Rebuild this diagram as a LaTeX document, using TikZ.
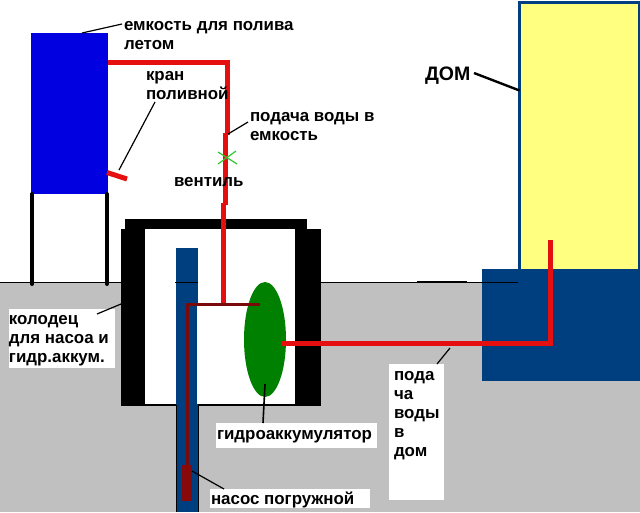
\documentclass[tikz,border=0pt]{standalone}
\usepackage{fontspec}
\setmainfont{Liberation Sans}
\usetikzlibrary{shapes.geometric}
\definecolor{deepblue}{HTML}{003F7F}
\definecolor{tankblue}{HTML}{0000E0}
\definecolor{groundgray}{HTML}{C0C0C0}
\definecolor{pipered}{HTML}{E60F0F}
\definecolor{darkpipe}{HTML}{7A0A0A}
\definecolor{housefill}{HTML}{FFFF80}
\definecolor{valvegreen}{HTML}{30C830}
\tikzset{
block/.style=
    {rectangle,
    anchor=north west,
    inner sep=0pt,
    outer sep=0pt
    },
tag/.style=
    {anchor=north west,
    align=left,
    inner sep=0pt,
    outer sep=0pt,
    font=\fontsize{16.9}{19.2}\selectfont\bfseries,
    execute at begin node=\rule{0pt}{13pt}
    },
pipe/.style=
    {draw=pipered,
    line width=5pt
    },
thinpipe/.style=
    {draw=darkpipe,
    line width=3pt
    },
leader/.style=
    {draw=black,
    line width=1.2pt
    },
ledge/.style=
    {draw=black,
    line width=4pt,
    line cap=round
    }}

\begin{document}
\begin{tikzpicture}[x=1pt,y=-1pt]
\useasboundingbox (0,0) rectangle (640,512);
% ground and house
\node[block,fill=groundgray,minimum width=640pt,minimum height=230pt] (ground) at (0,282) {};
\node[block,fill=housefill,draw=deepblue,line width=2.4pt,minimum width=120pt,minimum height=268pt] (house) at (519.5,2.5) {};
\node[block,fill=deepblue,minimum width=158pt,minimum height=112pt] (base) at (482,269) {};
\draw[black,thick] (ground.north west) -- (122,282) (320,282) -- (518,282);
\draw[black,line width=1.6pt] (417,282) -- (467,282);
% tank
\node[block,fill=tankblue,minimum width=77pt,minimum height=161pt] (tank) at (31,33) {};
\coordinate (legla) at (32,194);
\coordinate (leglb) at (32,284);
\coordinate (legra) at (107,194);
\coordinate (legrb) at (107,284);
\draw[ledge] (legla) -- (leglb);
\draw[ledge] (legra) -- (legrb);
% well
\node[block,fill=black,minimum width=200pt,minimum height=177pt] (well) at (121,229) {};
\node[block,fill=black,minimum width=182pt,minimum height=10pt] (cap) at (125,219) {};
\node[block,fill=white,minimum width=150pt,minimum height=175pt] (shaft) at (145,229) {};
\node[block,fill=deepblue,minimum width=22pt,minimum height=264pt] (bore) at (176,248) {};
\draw[black,thin] (175,282) -- (198,282);
\draw[black,thin] (176,405) -- (bore.south west) (198,405) -- (bore.south east);
\node[block,fill=white,minimum width=98pt,minimum height=100pt] (room) at (197,304) {};
\node[ellipse,fill=green!50!black,inner sep=0pt,minimum width=42pt,minimum height=115pt] (accum) at (265,339.5) {};
\node[block,fill=darkpipe!90!red,minimum width=10pt,minimum height=36pt] (pump) at (182,465) {};
% pipes
\coordinate (tee) at (223,306);
\coordinate (feedcorner) at (227,62);
\coordinate (feedstep) at (227,135);
\coordinate (feedstepb) at (225,133);
\coordinate (feedstepc) at (225,205);
\coordinate (feedstepd) at (223,203);
\coordinate (tankout) at ([yshift=51.5pt]tank.east);
\coordinate (tapin) at ([shift={(-1,59)}]tank.east);
\coordinate (tapend) at (127,179);
\coordinate (dark) at (187,304);
\coordinate (darkend) at (260,304);
\coordinate (housecorner) at (550,343);
\coordinate (houseend) at (550,240);
\draw[pipe] (tankout) -- (feedcorner) -- (feedstep);
\draw[pipe] (feedstepb) -- (feedstepc);
\draw[pipe] (feedstepd) -- (tee);
\draw[pipe] (tapin) -- (tapend);
\draw[pipe] ([shift={(-5,3.5)}]accum.east) -- (housecorner) -- (houseend);
\draw[thinpipe] (pump.north) -- (dark) -- (darkend);
% valve
\coordinate (valve) at (227,158);
\draw[valvegreen,line width=1.2pt] ([shift={(-9,-6)}]valve) -- ([shift={(10,6)}]valve);
\draw[valvegreen,line width=1.2pt] ([shift={(-9,6)}]valve) -- ([shift={(9,-7)}]valve);
% labels
\node[tag] (ltank) at (124,21) {емкость для полива\\летом};
\node[tag] (ltap) at (146,71) {кран\\поливной};
\node[tag] (lfeed) at (250,112) {подача воды в\\емкость};
\node[tag] (lvalve) at (174,173) {вентиль};
\node[tag,font=\fontsize{19.5}{20}\selectfont\bfseries] (lhouse) at (425,67) {ДОМ};
\node[block,fill=white,minimum width=106pt,minimum height=59pt] (lwellbox) at (9,309) {};
\node[tag] (lwell) at (9,315) {колодец\\для насоа и\\гидр.аккум.};
\node[block,fill=white,minimum width=161pt,minimum height=25pt] (laccbox) at (216,423) {};
\node[tag] (lacc) at (217,426) {гидроаккумулятор};
\node[block,fill=white,minimum width=160pt,minimum height=19pt] (lpumpbox) at (210,489) {};
\node[tag] (lpump) at (211,491) {насос погружной};
\node[block,fill=white,minimum width=55pt,minimum height=136pt] (lhomebox) at (389,364) {};
\node[tag] (lhome) at (394,371) {пода\\ча\\воды\\в\\дом};
% leaders
\coordinate (tapmark) at (119,170);
\coordinate (feedmark) at (228,134);
\coordinate (wellmark) at (121,304);
\coordinate (homemark) at (450,348);
\draw[leader] ([xshift=51pt]tank.north west) -- ([shift={(-2,3)}]ltank.north west);
\draw[leader] ([shift={(9,31)}]ltap.north west) -- (tapmark);
\draw[leader] ([shift={(-2,10)}]lfeed.north west) -- (feedmark);
\draw[leader,line width=2.4pt] ([shift={(49,6)}]lhouse.north west) -- ([shift={(0,88)}]house.north west);
\draw[leader] ([shift={(88,5)}]lwellbox.north west) -- (wellmark);
\draw[leader,line width=1.6pt] ([yshift=13pt]accum.south) -- ([xshift=47pt]laccbox.north west);
\draw[leader] ([shift={(0,6)}]pump.north east) -- ([xshift=14pt]lpumpbox.north west);
\draw[leader] ([xshift=-7pt]lhomebox.north east) -- (homemark);
\end{tikzpicture}
\end{document}
